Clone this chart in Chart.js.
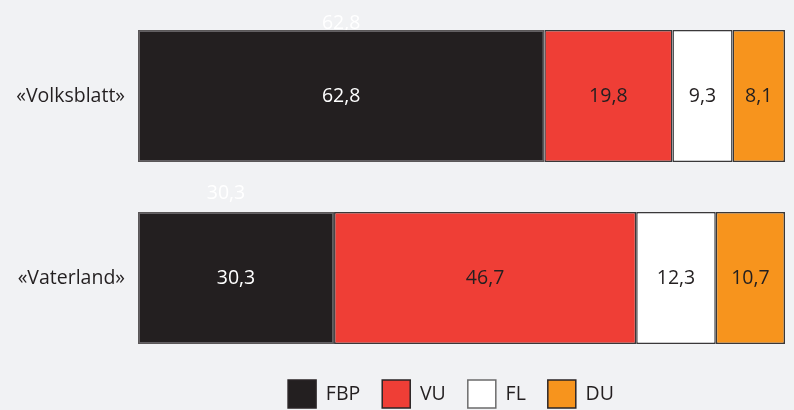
<!DOCTYPE html>
<html>
<head>
<meta charset="utf-8">
<script src="https://cdn.jsdelivr.net/npm/chart.js@4"></script>
<style>
  html, body { margin: 0; padding: 0; background: #f1f2f4; }
  #wrap { width: 794px; height: 410px; }
</style>
</head>
<body>
<div id="wrap"><canvas id="graph1" width="794" height="410"></canvas></div>
<script>
// Zeitungen und Parteianteile (in %)
var papers = ['«Volksblatt»', '«Vaterland»'];
var parties = ['FBP', 'VU', 'FL', 'DU'];
var fbp = [62.8, 30.3];
var vu = [19.8, 46.7];
var fl = [9.3, 12.3];
var du = [8.1, 10.7];

var fillColors = ['#231f20', '#ef3e36', '#ffffff', '#f7941d'];
var textColors = ['#ffffff', '#231f20', '#231f20', '#231f20'];
var fontFamily = '"Open Sans", sans-serif';
var fontSize = 19.5;

function fmt(v) {
    return v.toFixed(1).replace('.', ',');
}

// Werte in den Segmenten
var valueLabels = {
    id: 'valueLabels',
    afterLayout: function (chart) {
        // Legende näher an die Balken und etwas nach rechts
        var lg = chart.legend;
        lg.top -= 11;
        lg.bottom -= 11;
        lg.left += 58.5;
        lg.right += 58.5;
    },
    beforeDatasetsDraw: function (chart) {
        // helle "Schatten"-Beschriftung über dem FBP-Segment
        var ctx = chart.ctx;
        var meta = chart.getDatasetMeta(0);
        var lift = [7, 19];
        ctx.save();
        ctx.font = fontSize + 'px ' + fontFamily;
        ctx.fillStyle = '#ffffff';
        ctx.textAlign = 'center';
        ctx.textBaseline = 'middle';
        meta.data.forEach(function (bar, i) {
            var cx = (bar.x + bar.base) / 2;
            ctx.fillText(fmt(chart.data.datasets[0].data[i]), cx - (i === 1 ? 10 : 0), bar.y - bar.height / 2 - lift[i]);
        });
        ctx.restore();
    },
    afterDatasetsDraw: function (chart) {
        var ctx = chart.ctx;
        ctx.save();
        ctx.font = fontSize + 'px ' + fontFamily;
        ctx.textAlign = 'center';
        ctx.textBaseline = 'middle';
        chart.data.datasets.forEach(function (ds, d) {
            var meta = chart.getDatasetMeta(d);
            ctx.fillStyle = textColors[d];
            meta.data.forEach(function (bar, i) {
                var cx = (bar.x + bar.base) / 2;
                ctx.fillText(fmt(ds.data[i]), cx, bar.y);
            });
        });
        ctx.restore();
    }
};

var seriesValues = [fbp, vu, fl, du];
var datasets = parties.map(function (p, d) {
    return {
        label: p,
        data: seriesValues[d],
        backgroundColor: fillColors[d],
        borderColor: d === 0 ? '#5a5758' : '#3a3839',
        borderWidth: 1.5,
        borderSkipped: false,
        barPercentage: 0.725,
        categoryPercentage: 1
    };
});

var chart = new Chart(document.getElementById('graph1').getContext('2d'), {
    type: 'bar',
    data: { labels: papers, datasets: datasets },
    options: {
        indexAxis: 'y',
        responsive: false,
        maintainAspectRatio: false,
        animation: false,
        layout: { padding: { left: 0, right: 9, top: 5, bottom: -19 } },
        scales: {
            x: {
                stacked: true,
                min: 0,
                max: 100,
                display: false
            },
            y: {
                stacked: true,
                grid: { display: false },
                border: { display: false },
                ticks: {
                    color: '#231f20',
                    font: { family: fontFamily, size: fontSize },
                    padding: 5
                },
                afterFit: function (scale) {
                    scale.width = 138;
                    scale.paddingTop = 0;
                    scale.paddingBottom = 0;
                }
            }
        },
        plugins: {
            tooltip: { enabled: false },
            legend: {
                position: 'bottom',
                labels: {
                    boxWidth: 28,
                    boxHeight: 28,
                    padding: 22,
                    color: '#231f20',
                    font: { family: fontFamily, size: fontSize },
                    generateLabels: function (chart) {
                        return chart.data.datasets.map(function (ds, d) {
                            return {
                                text: ds.label,
                                fillStyle: ds.backgroundColor,
                                strokeStyle: d === 2 ? '#6b6b6b' : '#2a2526',
                                lineWidth: 1.5,
                                datasetIndex: d,
                                fontColor: '#231f20'
                            };
                        });
                    }
                }
            }
        }
    },
    plugins: [valueLabels]
});
</script>
</body>
</html>
